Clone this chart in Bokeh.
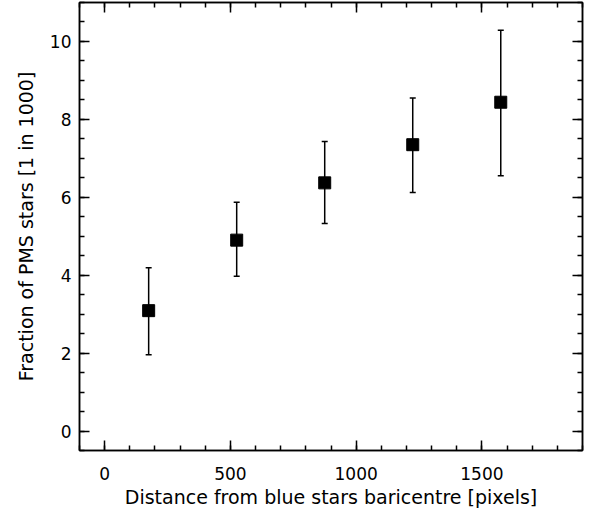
from bokeh.plotting import figure
from bokeh.models import LinearAxis, Range1d, Whisker, ColumnDataSource, FixedTicker
from bokeh.embed import file_html
from bokeh.resources import INLINE

distance = [175, 525, 875, 1225, 1575]
fraction = [3.09, 4.90, 6.37, 7.35, 8.44]
err_upper = [4.19, 5.87, 7.43, 8.55, 10.29]
err_lower = [1.96, 3.97, 5.33, 6.12, 6.55]

x_ticks = [0, 500, 1000, 1500]
y_ticks = [0, 2, 4, 6, 8, 10]

FONT = "DejaVu Sans"

src = ColumnDataSource(data=dict(x=distance, y=fraction, upper=err_upper, lower=err_lower))

p = figure(width=594, height=510, output_backend="svg", toolbar_location=None,
           x_range=Range1d(-100, 1900), y_range=Range1d(-0.5, 11),
           x_axis_label="Distance from blue stars baricentre [pixels]",
           y_axis_label="Fraction of PMS stars [1 in 1000]",
           min_border_left=79, min_border_right=12, min_border_top=2, min_border_bottom=59)

p.background_fill_color = "white"
p.border_fill_color = "white"
p.outline_line_color = "black"
p.outline_line_width = 1.5
p.xgrid.visible = False
p.ygrid.visible = False

def style_axis(ax, ticks, minor, show_labels=True):
    ax.ticker = FixedTicker(ticks=ticks, minor_ticks=minor)
    ax.major_tick_in = 10
    ax.major_tick_out = 0
    ax.minor_tick_in = 5
    ax.minor_tick_out = 0
    ax.major_tick_line_width = 1.5
    ax.minor_tick_line_width = 1.5
    ax.axis_line_width = 1.5
    ax.axis_line_color = "black"
    ax.major_tick_line_color = "black"
    ax.minor_tick_line_color = "black"
    ax.major_label_text_font = FONT
    ax.major_label_text_font_size = "17px"
    ax.major_label_text_color = "black"
    ax.axis_label_text_font = FONT
    ax.axis_label_text_font_size = "19px"
    ax.axis_label_text_font_style = "normal"
    ax.axis_label_text_color = "black"
    if not show_labels:
        ax.major_label_text_color = None
        ax.major_label_standoff = 0
        ax.axis_label = None

x_minor = list(range(-100, 1901, 100))
y_minor = [v * 0.5 for v in range(-1, 23)]

style_axis(p.xaxis[0], x_ticks, x_minor)
style_axis(p.yaxis[0], y_ticks, y_minor)
p.xaxis[0].major_label_standoff = 16
p.xaxis[0].axis_label_standoff = 3
p.yaxis[0].major_label_standoff = 8
p.yaxis[0].axis_label_standoff = 10

top_ax = LinearAxis()
right_ax = LinearAxis()
style_axis(top_ax, x_ticks, x_minor, show_labels=False)
style_axis(right_ax, y_ticks, y_minor, show_labels=False)
p.add_layout(top_ax, "above")
p.add_layout(right_ax, "right")

w = Whisker(source=src, base="x", upper="upper", lower="lower", dimension="height",
            line_color="black", line_width=1.5)
w.upper_head.size = 6
w.lower_head.size = 6
w.upper_head.line_width = 1.5
w.lower_head.line_width = 1.5
w.upper_head.line_color = "black"
w.lower_head.line_color = "black"
p.add_layout(w)

p.scatter("x", "y", source=src, marker="square", size=12, fill_color="black", line_color="black")

open("out.html", "w").write(file_html(p, INLINE))
